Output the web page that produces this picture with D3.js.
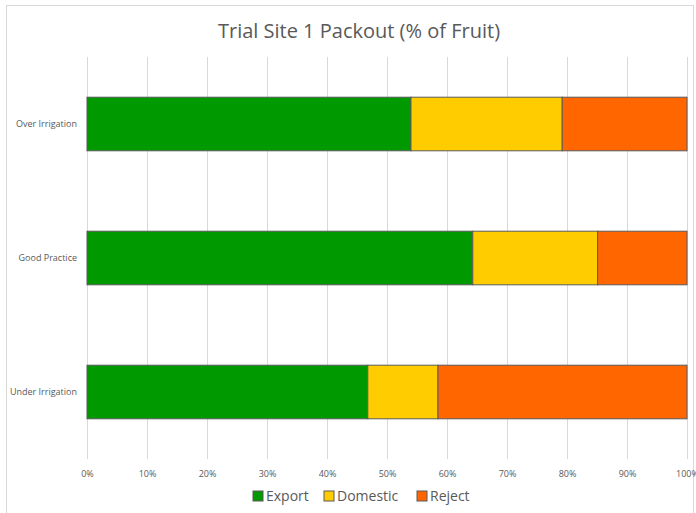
<!DOCTYPE html>
<html><head><meta charset="utf-8">
<script src="https://cdn.jsdelivr.net/npm/d3@7"></script>
<style>body{margin:0;background:#fff;}svg{display:block;font-family:"Open Sans",sans-serif;}</style>
</head><body>
<script>
const categories = ["Over Irrigation", "Good Practice", "Under Irrigation"];
const seriesNames = ["Export", "Domestic", "Reject"];
const exportVals = [54.0, 64.3, 46.8];
const domesticVals = [25.2, 20.8, 11.7];
const rejectVals = [20.8, 14.9, 41.5];
const colors = ["#009900", "#FFCC00", "#FF6600"];
const tickVals = [0,10,20,30,40,50,60,70,80,90,100];

const W = 696, H = 513;
const svg = d3.select("body").append("svg").attr("width", W).attr("height", H);
svg.append("rect").attr("x",6.5).attr("y",5.5).attr("width",687).attr("height",520)
  .attr("fill","#fff").attr("stroke","#d9d9d9");

const x = d3.scaleLinear().domain([0,100]).range([87,687]);
const y = d3.scaleBand().domain(categories).range([57,459]).paddingInner(0.6).paddingOuter(0.3);

svg.append("text").attr("x",359).attr("y",38).attr("text-anchor","middle")
  .attr("font-size",20).attr("fill","#595959").text("Trial Site 1 Packout (% of Fruit)");

// gridlines
svg.append("g").selectAll("line").data(tickVals).join("line")
  .attr("x1",d=>x(d)+0.5).attr("x2",d=>x(d)+0.5).attr("y1",57).attr("y2",459)
  .attr("stroke","#d9d9d9").attr("stroke-width",1);

// axis
const xAxis = d3.axisBottom(x).tickValues(tickVals).tickFormat(d=>d+"%").tickSize(0).tickPadding(0);
const ag = svg.append("g").attr("transform","translate(0,474)").call(xAxis);
ag.select(".domain").remove();
ag.selectAll("text").attr("font-size",9).attr("fill","#595959").attr("dy","0.32em").attr("font-family","'Open Sans',sans-serif");

const yAxis = d3.axisLeft(y).tickSize(0).tickPadding(10);
const yg = svg.append("g").attr("transform","translate(87,0)").call(yAxis);
yg.select(".domain").remove();
yg.selectAll("text").attr("font-size",9).attr("fill","#595959").attr("font-family","'Open Sans',sans-serif");

const rows = categories.map((c,i)=>({cat:c, Export:exportVals[i], Domestic:domesticVals[i], Reject:rejectVals[i]}));
const stack = d3.stack().keys(seriesNames)(rows);
svg.append("g").selectAll("g").data(stack).join("g").attr("fill",(d,i)=>colors[i])
  .selectAll("rect").data(d=>d).join("rect")
  .attr("x",d=>x(d[0])).attr("width",d=>x(d[1])-x(d[0]))
  .attr("y",d=>y(d.data.cat)).attr("height",y.bandwidth())
  .attr("stroke","#5a5a5a").attr("stroke-width",1);

// legend
const legX = [253, 324, 417];
const lg = svg.append("g");
seriesNames.forEach((s,i)=>{
  lg.append("rect").attr("x",legX[i]).attr("y",491).attr("width",10).attr("height",10)
    .attr("fill",colors[i]).attr("stroke","#5a5a5a");
  lg.append("text").attr("x",legX[i]+13).attr("y",496).attr("dy","0.35em")
    .attr("font-size",14).attr("fill","#595959").text(s);
});
</script>
</body></html>
